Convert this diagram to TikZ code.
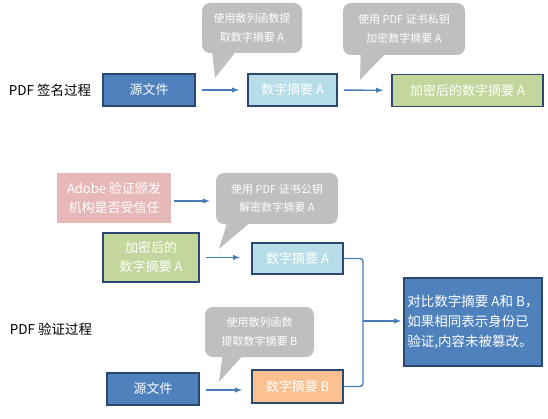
\documentclass[tikz,border=0pt]{standalone}
\usepackage{fontspec}
\setmainfont{Noto Sans CJK SC}
\definecolor{boxblue}{HTML}{4F81BD}
\definecolor{edgenavy}{HTML}{2A4870}
\definecolor{lightcyan}{HTML}{B7DEE8}
\definecolor{leafgreen}{HTML}{C3D69B}
\definecolor{rosepink}{HTML}{E6B9B8}
\definecolor{peach}{HTML}{FAC090}
\definecolor{bubblegray}{HTML}{BFBFBF}
\definecolor{arrblue}{HTML}{4A7EBB}
\begin{document}
\begin{tikzpicture}[x=1pt, y=-1pt, >=latex,
    filebox/.style={draw=edgenavy, line width=1.8pt, text=white, minimum height=32pt,
      inner sep=0pt, align=center, font=\fontsize{13}{19}\selectfont},
    bubble/.style={fill=bubblegray, rounded corners=8pt, text=white, inner sep=0pt,
      align=center, font=\fontsize{11}{18.5}\selectfont},
    flow/.style={->, draw=arrblue, line width=1.4pt, shorten <=6pt, shorten >=8pt},
    joinline/.style={draw=arrblue, line width=1.4pt, rounded corners=3pt}]
    % 画布大小
    \useasboundingbox (0,0) rectangle (548,419);

    % 签名过程
    \node[font=\fontsize{13.5}{16}\selectfont] (sigtxt) at (50,90) {PDF 签名过程};
    \node[filebox, fill=boxblue, minimum width=92pt] (src1) at (149,90) {源文件};
    \node[filebox, fill=lightcyan, minimum width=89pt] (dA1) at (292.5,90) {数字摘要 A};
    \node[filebox, fill=leafgreen, minimum width=151pt] (enc1) at (467.5,90.5) {加密后的数字摘要 A};

    % 提示气泡
    \node[bubble, minimum width=100pt, minimum height=50pt] (hash1) at (252,28) {使用散列函数提\\取数字摘要 A};
    \coordinate (hash1tip) at (215,78);
    \fill[bubblegray] ([xshift=10pt,yshift=4pt]hash1.south west) -- (hash1tip) -- ([xshift=36pt,yshift=4pt]hash1.south west) -- cycle;

    \node[bubble, minimum width=122pt, minimum height=52pt] (priv) at (404,29) {使用 PDF 证书私钥\\加密数字摘要 A};
    \coordinate (privtip) at (360,80);
    \fill[bubblegray] ([xshift=18pt,yshift=4pt]priv.south west) -- (privtip) -- ([xshift=45pt,yshift=4pt]priv.south west) -- cycle;

    \draw[flow] (src1) -- (dA1);
    \draw[flow] (dA1) -- (enc1);

    % 验证过程
    \node[filebox, fill=rosepink, draw=none, minimum width=114pt, minimum height=50pt] (adobe) at (114,198) {Adobe 验证颁发\\机构是否受信任};
    \node[bubble, minimum width=122pt, minimum height=51pt] (pub) at (277,198.5) {使用 PDF 证书公钥\\解密数字摘要 A};
    \coordinate (pubtip) at (219,249);
    \fill[bubblegray] ([xshift=12pt,yshift=4pt]pub.south west) -- (pubtip) -- ([xshift=37pt,yshift=4pt]pub.south west) -- cycle;
    \draw[flow, shorten <=2pt, shorten >=6pt] ([yshift=-3pt]adobe.east) -- ([yshift=-3pt]adobe.east -| pub.west);

    \node[filebox, fill=leafgreen, minimum width=96pt, minimum height=49pt] (enc2) at (151,257.5) {加密后的\\数字摘要 A};
    \node[filebox, fill=lightcyan, minimum width=91pt, minimum height=31pt] (dA2) at (297.5,258.5) {数字摘要 A};
    \draw[flow, shorten >=11pt] (enc2.east) -- (enc2.east -| dA2.west);

    \node[font=\fontsize{13.5}{16}\selectfont] (vertxt) at (51,329) {PDF 验证过程};
    \node[bubble, minimum width=109pt, minimum height=50pt] (hash2) at (259.5,332) {使用散列函数\\提取数字摘要 B};
    \coordinate (hash2tip) at (219,382);
    \fill[bubblegray] ([xshift=18pt,yshift=4pt]hash2.south west) -- (hash2tip) -- ([xshift=40pt,yshift=4pt]hash2.south west) -- cycle;

    \node[filebox, fill=boxblue, minimum width=92pt] (src2) at (153,389) {源文件};
    \node[filebox, fill=peach, minimum width=91pt, minimum height=33pt] (dB) at (297.5,386.5) {数字摘要 B};
    \draw[flow, shorten >=9pt] ([yshift=-1pt]src2.east) -- ([yshift=-1pt]src2.east -| dB.west);

    % 对比结果
    \node[filebox, fill=boxblue, minimum width=138pt, minimum height=88pt, align=left,
      font=\fontsize{13.5}{20}\selectfont] (cmp) at (473,322) {对比数字摘要 A和 B，\\如果相同表示身份已\\验证,内容未被篡改。};
    \coordinate (jn) at (363,321);
    \draw[joinline] (dA2.east) -| (jn);
    \draw[joinline] (dB.east) -| (jn);
    \draw[flow, shorten <=0pt, shorten >=2pt] (jn) -- (jn -| cmp.west);
\end{tikzpicture}
\end{document}
